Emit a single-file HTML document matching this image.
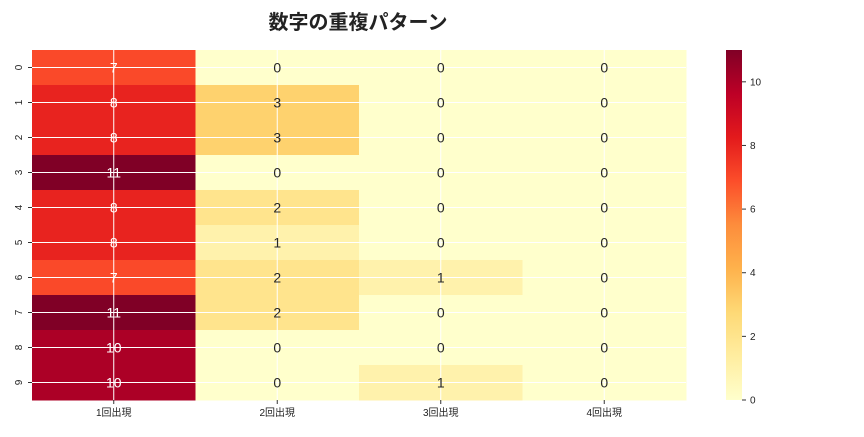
<!DOCTYPE html>
<html><head><meta charset="utf-8">
<style>
body{margin:0;background:#fff;}
svg text{font-family:"Liberation Sans","Noto Sans CJK JP",sans-serif;}
</style></head>
<body>
<svg id="chart" width="864" height="432" viewBox="0 0 864 432">
<text x="358" y="29" text-anchor="middle" font-size="20" font-weight="bold" fill="#222">数字の重複パターン</text>
<g id="cells"></g>
<g id="grid"></g>
<g id="labels"></g>
<g id="axes"></g>
<defs><linearGradient id="cbg" x1="0" y1="1" x2="0" y2="0"></linearGradient></defs>
<rect x="726" y="50" width="16" height="350" fill="url(#cbg)"></rect>
<g id="cbticks"></g>
</svg>
<script>
const rowLabels = ["0","1","2","3","4","5","6","7","8","9"];
const colLabels = ["1回出現","2回出現","3回出現","4回出現"];
const col1 = [7,8,8,11,8,8,7,11,10,10];
const col2 = [0,3,3,0,2,1,2,2,0,0];
const col3 = [0,0,0,0,0,0,1,0,0,1];
const col4 = [0,0,0,0,0,0,0,0,0,0];
const cbTicks = [0,2,4,6,8,10];
const vmin = 0, vmax = 11;
const cols = [col1,col2,col3,col4];
const NS="http://www.w3.org/2000/svg";
const X0=32,X1=686,Y0=50,Y1=400;
const cw=(X1-X0)/colLabels.length, ch=(Y1-Y0)/rowLabels.length;
const stops=["#ffffcc","#ffeda0","#fed976","#feb24c","#fd8d3c","#fc4e2a","#e31a1c","#bd0026","#800026"];
function hex(h){return [1,3,5].map(i=>parseInt(h.substr(i,2),16));}
function cmap(v){let t=Math.max(0,Math.min(1,(v-vmin)/(vmax-vmin)))*(stops.length-1);let i=Math.min(Math.floor(t),stops.length-2);let f=t-i;let a=hex(stops[i]),b=hex(stops[i+1]);return a.map((c,k)=>Math.round(c+(b[k]-c)*f));}
function el(tag,attrs,parent){const e=document.createElementNS(NS,tag);for(const k in attrs)e.setAttribute(k,attrs[k]);parent.appendChild(e);return e;}
const xPos=j=>X0+cw*j, yPos=i=>Y0+ch*i;
const cells=document.getElementById('cells'),labels=document.getElementById('labels'),grid=document.getElementById('grid'),axes=document.getElementById('axes');
cols.forEach((col,j)=>col.forEach((v,i)=>{
 const c=cmap(v);
 const r=el('rect',{x:xPos(j),y:yPos(i),width:cw+0.5,height:ch+0.5,fill:`rgb(${c})`},cells);
 
 
 const lum=(0.299*c[0]+0.587*c[1]+0.114*c[2]);
 const t=el('text',{x:xPos(j)+cw/2,y:yPos(i)+ch/2+5,'text-anchor':'middle','font-size':14,fill:lum<150?'#fff':'#262626'},labels);
 t.textContent=v;
 
 
}));
rowLabels.forEach((lab,i)=>{
 const y=yPos(i)+ch/2;
 const l=el('line',{x1:X0,x2:X1,y1:y,y2:y,stroke:'#fff','stroke-width':1},grid);
 
 
 el('line',{x1:X0-4,x2:X0,y1:y,y2:y,stroke:'#333'},axes);
 const t=el('text',{x:0,y:0,'font-size':10,fill:'#222','text-anchor':'middle',transform:`translate(22,${y}) rotate(-90)`},axes);
 t.textContent=lab;
 
 
});
colLabels.forEach((lab,j)=>{
 const x=xPos(j)+cw/2;
 const l=el('line',{x1:x,x2:x,y1:Y0,y2:Y1,stroke:'#fff','stroke-width':1},grid);
 
 
 el('line',{x1:x,x2:x,y1:Y1,y2:Y1+4,stroke:'#333'},axes);
 const t=el('text',{x:x,y:Y1+16,'font-size':10,fill:'#222','text-anchor':'middle'},axes);
 t.textContent=lab;
 
 
});
const g=document.getElementById('cbg');
stops.forEach((s,k)=>el('stop',{offset:k/(stops.length-1),'stop-color':s},g));
const cbt=document.getElementById('cbticks');
cbTicks.forEach(v=>{
 const y=Y1-(v-vmin)/(vmax-vmin)*(Y1-Y0);
 el('line',{x1:742,x2:746,y1:y,y2:y,stroke:'#333'},cbt);
 const t=el('text',{x:750,y:y+3.5,'font-size':10,fill:'#222'},cbt);
 t.textContent=v;
 
 
});
</script>
</body></html>
